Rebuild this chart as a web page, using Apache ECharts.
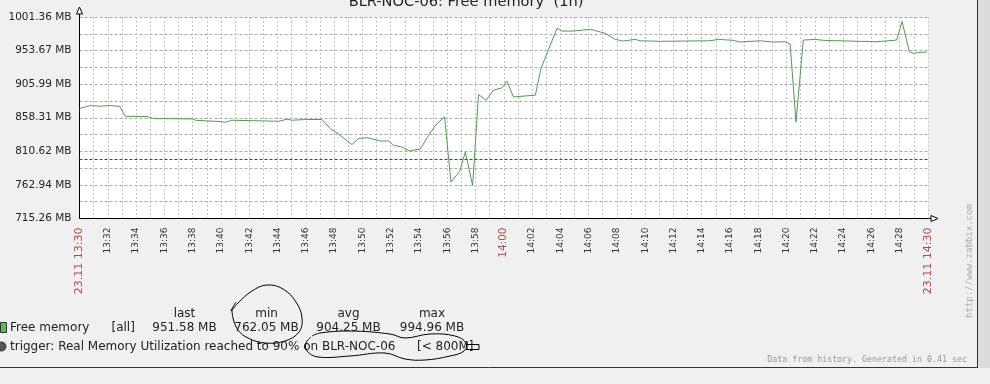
<!DOCTYPE html>
<html>
<head>
<meta charset="utf-8">
<script src="https://cdn.jsdelivr.net/npm/echarts@6/dist/echarts.min.js"></script>
<style>
html,body{margin:0;padding:0;background:#f0f0f0;}
#chart{width:990px;height:384px;}
</style>
</head>
<body>
<div id="chart"></div>
<script>
// ---- data ----
const chartTitle = 'BLR-NOC-06: Free memory  (1h)';
const seriesName = 'Free memory';
const startClock = '13:30:00';
const sampleTimes = ['13:30:00','13:30:47','13:31:29','13:32:11','13:32:51','13:33:15','13:34:47','13:35:15','13:37:58','13:38:12',
  '13:39:01','13:39:58','13:40:19','13:40:47','13:43:01','13:44:05','13:44:41','13:45:02','13:45:58','13:47:09',
  '13:47:44','13:48:13','13:49:16','13:49:44','13:50:20','13:51:16','13:51:52','13:52:13','13:52:48','13:53:19',
  '13:54:06','13:54:41','13:55:14','13:55:49','13:56:16','13:56:53','13:57:17','13:57:48','13:58:13','13:58:45',
  '13:59:17','13:59:52','14:00:14','14:00:41','14:02:14','14:02:38','14:03:10','14:03:46','14:04:07','14:04:56',
  '14:06:07','14:07:10','14:07:53','14:08:28','14:09:17','14:09:39','14:11:04','14:14:35','14:15:11','14:16:14',
  '14:16:43','14:18:08','14:18:57','14:19:53','14:20:15','14:20:40','14:21:11','14:22:01','14:22:36','14:26:22',
  '14:27:47','14:28:10','14:28:41','14:28:58','14:29:26','14:29:55'];
const freeMemoryMB = [871.4,875.7,874.7,875.7,874.3,860.4,860.0,857.2,856.6,854.8,
  853.8,852.9,851.9,854.8,853.8,853.3,856.2,854.8,855.8,855.8,
  842.9,836.7,820.2,828.7,830.1,825.3,825.3,819.2,816.8,811.1,
  813.9,833.4,849.1,859.5,767.0,782.2,809.7,762.05,891.3,883.2,
  897.5,900.7,910.3,887.9,890.3,928.3,955.4,985.3,981.4,981.4,
  983.9,978.2,969.6,967.2,969.6,967.6,966.8,967.6,969.6,968.2,
  965.8,967.6,965.8,966.2,962.9,852.3,968.6,969.6,968.2,966.2,
  968.6,994.96,952.0,949.7,951.1,951.58];
const triggerMB = 800;
const xTickLabels = ['23.11 13:30','13:32','13:34','13:36','13:38','13:40','13:42','13:44','13:46','13:48','13:50',
  '13:52','13:54','13:56','13:58','14:00','14:02','14:04','14:06','14:08','14:10','14:12','14:14','14:16',
  '14:18','14:20','14:22','14:24','14:26','14:28','23.11 14:30'];
const yTickLabels = ['715.26 MB','762.94 MB','810.62 MB','858.31 MB','905.99 MB','953.67 MB','1001.36 MB'];
const statNames = ['last','min','avg','max'];
const statValues = ['951.58 MB','762.05 MB','904.25 MB','994.96 MB'];
const triggerText = 'trigger: Real Memory Utilization reached to 90% on BLR-NOC-06';
const triggerCond = '[< 800M]';

// ---- build ----
function toMin(s){const p=s.split(':').map(Number);const b=startClock.split(':').map(Number);
  return (p[0]*3600+p[1]*60+p[2]-(b[0]*3600+b[1]*60+b[2]))/60;}
const seriesData = sampleTimes.map((t,i)=>[toMin(t), freeMemoryMB[i]]);
const step = 25e6/1048576;
const F = 'DejaVu Sans';
const red = '#b04a4a';

const chart = echarts.init(document.getElementById('chart'));
const statX = [184.5,266.5,348.5,432];
const gfx = [
  {type:'rect',shape:{x:977,y:0,width:13,height:368},style:{fill:'#dcdcdc'},silent:true},
  {type:'line',shape:{x1:977.5,y1:0,x2:977.5,y2:368},style:{stroke:'#333',lineWidth:1},silent:true},
  {type:'line',shape:{x1:0,y1:367.5,x2:977,y2:367.5},style:{stroke:'#333',lineWidth:1},silent:true},
  {type:'text',style:{text:chartTitle,x:466,y:2,font:'14.6px '+F,fill:'#222',textAlign:'center',textVerticalAlign:'middle'}},
  // axis arrows
  {type:'line',shape:{x1:79.5,y1:17,x2:79.5,y2:12},style:{stroke:'#000',lineWidth:1}},
  {type:'polygon',shape:{points:[[76.5,14],[82.5,14],[79.5,7]]},style:{fill:'#fff',stroke:'#000',lineWidth:1}},
  {type:'line',shape:{x1:928,y1:218.5,x2:932,y2:218.5},style:{stroke:'#000',lineWidth:1}},
  {type:'polygon',shape:{points:[[931,215.5],[931,221.5],[938,218.5]]},style:{fill:'#fff',stroke:'#000',lineWidth:1}},
  // watermark + footer
  {type:'text',rotation:Math.PI/2,x:970,y:318,style:{text:'http://www.zabbix.com',x:0,y:0,font:'9px DejaVu Sans Mono',fill:'#aaa',textAlign:'left',textVerticalAlign:'middle'}},
  {type:'text',style:{text:'Data from history. Generated in 0.41 sec',x:967,y:360,font:'8.3px DejaVu Sans Mono',fill:'#999',textAlign:'right',textVerticalAlign:'middle'}},
  // legend
  {type:'rect',shape:{x:0.5,y:322.5,width:6,height:10},style:{fill:'#52c152',stroke:'#333',lineWidth:1}},
  {type:'text',style:{text:seriesName,x:10,y:328,font:'12px '+F,fill:'#222',textVerticalAlign:'middle'}},
  {type:'text',style:{text:'[all]',x:111.5,y:328,font:'12px '+F,fill:'#222',textVerticalAlign:'middle'}},
  {type:'circle',shape:{cx:1.5,cy:346.5,r:4.5},style:{fill:'#555',stroke:'#333'}},
  {type:'text',style:{text:triggerText,x:10,y:347,font:'12px '+F,fill:'#222',textVerticalAlign:'middle'}},
  {type:'text',style:{text:triggerCond,x:417,y:347,font:'12px '+F,fill:'#222',textVerticalAlign:'middle'}},
  // hand-drawn annotations
  {type:'polyline',shape:{smooth:0.4,points:[[236,302],[231,311],[238,303],[252,291],[267,285],[283,289],[296,302],[302,318],[299,332],[285,341],[265,343],[248,338],[238,330],[233,318],[232,309]]},style:{stroke:'#000',lineWidth:1,fill:null}},
  {type:'polyline',shape:{smooth:0.4,points:[[312,336],[320,333],[350,331],[390,334],[405,338],[430,334],[455,336],[466,343],[464,351],[450,356],[425,360],[405,359],[385,353],[350,356],[318,357],[307,351],[306,343],[311,337]]},style:{stroke:'#000',lineWidth:1,fill:null}},
  {type:'polyline',shape:{points:[[466,344.5],[479,344.5],[479,349.5],[466,349.5]]},style:{stroke:'#000',lineWidth:1,fill:null}}
];
statNames.forEach((n,i)=>{
  gfx.push({type:'text',style:{text:n,x:statX[i],y:314,font:'12px '+F,fill:'#222',textAlign:'center',textVerticalAlign:'middle'}});
  gfx.push({type:'text',style:{text:statValues[i],x:statX[i],y:328,font:'12px '+F,fill:'#222',textAlign:'center',textVerticalAlign:'middle'}});
});

chart.setOption({
  animation:false,
  backgroundColor:'#f0f0f0',
  grid:{left:79.5,right:62,top:17,bottom:165.5,show:true,backgroundColor:'#fff',borderWidth:0},
  xAxis:{type:'value',min:0,max:60,interval:1,
    axisLine:{show:true,lineStyle:{color:'#000',width:1}},
    axisTick:{show:false},
    splitLine:{show:true,lineStyle:{color:'#c4c4c4',type:[2,2],width:1}},
    axisLabel:{rotate:90,margin:9,fontFamily:F,fontSize:9,color:'#333',showMinLabel:true,showMaxLabel:true,
      formatter:function(v){const m=Math.round(v);if(m%2)return '';const s=xTickLabels[m/2];
        if(m===0||m===60)return '{edge|'+s+'}';if(m===30)return '{mid|'+s+'}';return s;},
      rich:{edge:{fontFamily:F,fontSize:11,color:red},mid:{fontFamily:F,fontSize:10.5,color:red}}}
  },
  yAxis:{type:'value',min:30*step,max:42*step,interval:step,
    axisLine:{show:true,lineStyle:{color:'#000',width:1}},
    axisTick:{show:false},
    splitLine:{show:true,lineStyle:{color:'#ababab',type:[3,2],width:1}},
    axisLabel:{margin:8,fontFamily:F,fontSize:10.5,color:'#222',showMinLabel:true,showMaxLabel:true,
      formatter:function(v){const k=Math.round(v/step)-30;if(k%2)return '';return yTickLabels[k/2]||'';}}
  },
  series:[{name:seriesName,type:'line',data:seriesData,showSymbol:false,
    lineStyle:{color:'#4f9e4f',width:1},itemStyle:{color:'#4f9e4f'},
    markLine:{silent:true,symbol:'none',label:{show:false},
      lineStyle:{color:'#444',type:[3,2],width:1},data:[{yAxis:triggerMB}]}}],
  graphic:{elements:gfx}
});
</script>
</body>
</html>
